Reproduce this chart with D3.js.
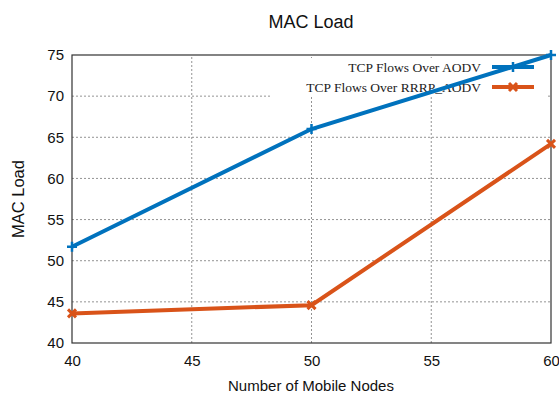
<!DOCTYPE html>
<html>
<head>
<meta charset="utf-8">
<script src="https://cdn.jsdelivr.net/npm/d3@7"></script>
<style>
	body { margin: 0; background: #fff; }
	svg text { font-family: "Liberation Sans", Arial, sans-serif; }
</style>
</head>
<body>
<div id="chart"></div>
<script>
// chart data
var nodes = [40, 50, 60];
var aodv = [51.7, 66.0, 75.0];
var rrrp = [43.6, 44.6, 64.2];
var xTicks = [40, 45, 50, 55, 60];
var yTicks = [40, 45, 50, 55, 60, 65, 70, 75];
var seriesNames = ["TCP Flows Over AODV", "TCP Flows Over RRRP_AODV"];

var width = 559, height = 400;
var margin = {top: 55, right: 8, bottom: 57, left: 72};

var svg = d3.select("#chart").append("svg")
		.attr("width", width)
		.attr("height", height);

var x = d3.scaleLinear().domain([40, 60]).range([margin.left, width - margin.right]);
var y = d3.scaleLinear().domain([40, 75]).range([height - margin.bottom, margin.top]);

// grid lines
var grid = svg.append("g").attr("class", "grid");
grid.selectAll(".vgrid")
	.data(xTicks.slice(1, -1))
	.enter().append("line")
	.attr("x1", function(d) { return x(d); })
	.attr("x2", function(d) { return x(d); })
	.attr("y1", y(40))
	.attr("y2", y(75))
	.attr("stroke", "#777")
	.attr("stroke-width", 0.8)
	.attr("stroke-dasharray", "2,2");
grid.selectAll(".hgrid")
	.data(yTicks.slice(1, -1))
	.enter().append("line")
	.attr("x1", x(40))
	.attr("x2", x(60))
	.attr("y1", function(d) { return y(d); })
	.attr("y2", function(d) { return y(d); })
	.attr("stroke", "#777")
	.attr("stroke-width", 0.8)
	.attr("stroke-dasharray", "2,2");

// legend box background hides the grid behind it
svg.append("rect")
	.attr("x", 270)
	.attr("y", 58)
	.attr("width", 276)
	.attr("height", 39)
	.attr("fill", "#fff");

// axes
var xAxis = svg.append("g")
	.attr("transform", "translate(0," + y(40) + ")")
	.call(d3.axisBottom(x).tickValues(xTicks).tickSize(0).tickPadding(12));
var yAxis = svg.append("g")
	.attr("transform", "translate(" + x(40) + ",0)")
	.call(d3.axisLeft(y).tickValues(yTicks).tickSize(0).tickPadding(8));
[xAxis, yAxis].forEach(function(a) {
	a.select(".domain").remove();
	a.selectAll("text").style("font-size", "15px").attr("fill", "#111");
});

// frame
svg.append("rect")
	.attr("x", x(40))
	.attr("y", y(75))
	.attr("width", x(60) - x(40))
	.attr("height", y(40) - y(75))
	.attr("fill", "none")
	.attr("stroke", "#333")
	.attr("stroke-width", 1.2);

// lines
var line = d3.line()
	.x(function(d) { return x(d[0]); })
	.y(function(d) { return y(d[1]); });

var colors = ["#0072BD", "#D95319"];
var allSeries = [aodv, rrrp];

function plusMark(g, cx, cy, c) {
	g.append("path")
		.attr("d", "M" + (cx - 5) + "," + cy + "H" + (cx + 5) + "M" + cx + "," + (cy - 5) + "V" + (cy + 5))
		.attr("stroke", c).attr("stroke-width", 2.5).attr("fill", "none");
}
function crossMark(g, cx, cy, c) {
	g.append("path")
		.attr("d", "M" + (cx - 4) + "," + (cy - 4) + "L" + (cx + 4) + "," + (cy + 4) + "M" + (cx + 4) + "," + (cy - 4) + "L" + (cx - 4) + "," + (cy + 4))
		.attr("stroke", c).attr("stroke-width", 3).attr("fill", "none");
}
var markers = [plusMark, crossMark];

// legend
var legend = svg.append("g");
seriesNames.forEach(function(name, i) {
	var ly = 67 + i * 20;
	legend.append("text")
		.attr("x", 481)
		.attr("y", ly)
		.attr("dy", "0.35em")
		.attr("text-anchor", "end")
		.style("font-family", "'Liberation Serif', 'Times New Roman', serif")
		.style("font-size", "13.5px")
		.attr("fill", "#222")
		.text(name);
	legend.append("line")
		.attr("x1", 492).attr("x2", 534)
		.attr("y1", ly).attr("y2", ly)
		.attr("stroke", colors[i])
		.attr("stroke-width", 4);
	markers[i](legend, 513, ly, colors[i]);
});

allSeries.forEach(function(vals, i) {
	var pts = nodes.map(function(n, j) { return [n, vals[j]]; });
	svg.append("path")
		.datum(pts)
		.attr("d", line)
		.attr("fill", "none")
		.attr("stroke", colors[i])
		.attr("stroke-width", 4);
	pts.forEach(function(p) {
		markers[i](svg, x(p[0]), y(p[1]), colors[i]);
	});
});

// titles
svg.append("text")
	.attr("x", 311)
	.attr("y", 28)
	.attr("text-anchor", "middle")
	.style("font-size", "18px")
	.attr("fill", "#111")
	.text("MAC Load");
svg.append("text")
	.attr("x", 311)
	.attr("y", 391)
	.attr("text-anchor", "middle")
	.style("font-size", "15px")
	.attr("fill", "#111")
	.text("Number of Mobile Nodes");
svg.append("text")
	.attr("transform", "translate(24," + 199 + ") rotate(-90)")
	.attr("text-anchor", "middle")
	.style("font-size", "16.5px")
	.attr("fill", "#111")
	.text("MAC Load");
</script>
</body>
</html>
